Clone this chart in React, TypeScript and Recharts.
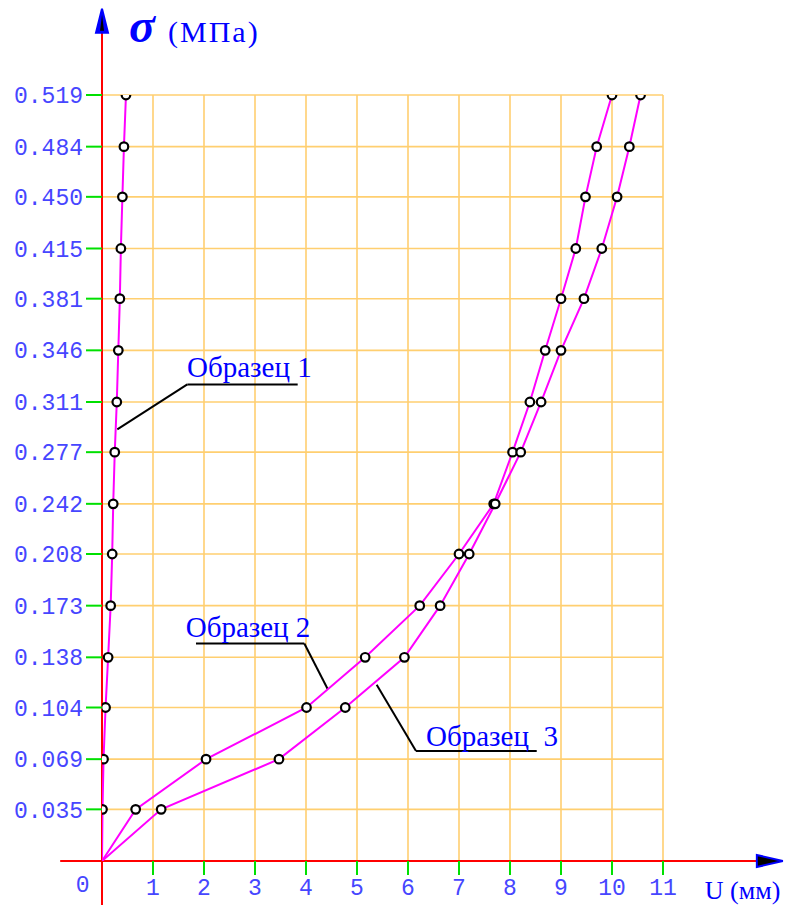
import React from "react";
import { LineChart, Line, XAxis, YAxis, CartesianGrid, ReferenceLine, ReferenceDot } from "recharts";

// stress levels (MPa) at which displacement was measured
const stressLevels = [0, 0.035, 0.069, 0.104, 0.138, 0.173, 0.208, 0.242, 0.277, 0.311, 0.346, 0.381, 0.415, 0.450, 0.484, 0.519];
// displacement U (mm) per sample
const sample1U = [0, 0.01, 0.03, 0.07, 0.12, 0.17, 0.2, 0.22, 0.25, 0.29, 0.32, 0.35, 0.37, 0.4, 0.43, 0.47];
const sample2U = [0, 0.66, 2.04, 4.01, 5.16, 6.23, 7.0, 7.68, 8.05, 8.39, 8.69, 9.0, 9.29, 9.48, 9.7, 10.0];
const sample3U = [0, 1.16, 3.47, 4.77, 5.93, 6.63, 7.2, 7.71, 8.21, 8.61, 9.0, 9.45, 9.8, 10.1, 10.34, 10.56];

const xTicks = [1, 2, 3, 4, 5, 6, 7, 8, 9, 10, 11];
const yTicks = stressLevels.slice(1);

// annotation leaders (data units)
const leader1 = [{ x: 0.3, y: 0.2924 }, { x: 1.673, y: 0.3229 }, { x: 3.837, y: 0.3229 }];
const leader2 = [{ x: 1.843, y: 0.1474 }, { x: 3.967, y: 0.1474 }, { x: 4.425, y: 0.1165 }];
const leader3 = [{ x: 5.386, y: 0.1194 }, { x: 6.157, y: 0.0746 }, { x: 8.524, y: 0.0746 }];
const labels = [
  { x: 1.667, y: 0.3277, text: "Образец 1" },
  { x: 1.641, y: 0.152, text: "Образец 2" },
  { x: 6.353, y: 0.078, text: "Образец\u00a0\u00a03" },
];

const zip = (us: number[]) => us.map((u, i) => ({ x: u, y: stressLevels[i] }));
const s1 = zip(sample1U);
const s2 = zip(sample2U);
const s3 = zip(sample3U);

const MAG = "#ff00ff";
const BLUE = "#0000ff";
const TICKBLUE = "#4646ff";
const MONO = "'Liberation Mono', 'Courier New', monospace";

const renderDot = (p: any) => {
  if (p.index === 0) return <g key={`d-${p.index}`} />;
  return <circle key={`d-${p.index}`} cx={p.cx} cy={p.cy} r={4.3} fill="#fff" stroke="#000" strokeWidth={2.2} />;
};

const XArrow = (p: any) => (
  <g>
    <line x1={p.x1} y1={p.y1} x2={p.x2 - 24} y2={p.y2} stroke="#ff0000" strokeWidth={2} />
    <polygon points={`${p.x2},${p.y2} ${p.x2 - 26},${p.y2 - 6} ${p.x2 - 26},${p.y2 + 6}`} fill="#000" stroke={BLUE} strokeWidth={2} />
  </g>
);
const YArrow = (p: any) => (
  <g>
    <line x1={p.x1} y1={p.y1} x2={p.x2} y2={p.y2 + 22} stroke="#ff0000" strokeWidth={2} />
    <polygon points={`${p.x2},${p.y2} ${p.x2 - 6},${p.y2 + 24} ${p.x2 + 6},${p.y2 + 24}`} fill={BLUE} stroke={BLUE} strokeWidth={2} />
    <polygon points={`${p.x2},${p.y2 + 6} ${p.x2 - 2},${p.y2 + 22} ${p.x2 + 2},${p.y2 + 22}`} fill="#000" />
  </g>
);
const Seg = (p: any) => <line x1={p.x1} y1={p.y1} x2={p.x2} y2={p.y2} stroke="#000" strokeWidth={2} />;

const textShape = (content: React.ReactNode, extra: any = {}) => (p: any) => (
  <text x={p.cx} y={p.cy} fill={BLUE} fontFamily="'Liberation Serif', 'Times New Roman', serif" fontSize={29} {...extra}>
    {content}
  </text>
);

export default function App() {
  const leaders = [leader1, leader2, leader3];
  return (
    <div style={{ position: "absolute", left: 0, top: 0, width: 787, height: 905, background: "#fff" }}>
      <LineChart width={787} height={905} margin={{ top: 95, right: 124, bottom: 14, left: 42 }}>
        <CartesianGrid stroke="#ffcf70" strokeWidth={1.6} />
        <XAxis
          type="number"
          dataKey="x"
          domain={[0, 11]}
          ticks={xTicks}
          allowDataOverflow
          axisLine={false}
          tickSize={14}
          tickMargin={4}
          tickLine={{ stroke: "#00e000", strokeWidth: 2 }}
          tick={{ fill: TICKBLUE, fontSize: 23, fontFamily: MONO }}
          height={30}
        />
        <YAxis
          type="number"
          dataKey="y"
          domain={[0, 0.519]}
          ticks={yTicks}
          allowDataOverflow
          axisLine={false}
          tickSize={16}
          tickMargin={3}
          tickFormatter={(v: number) => v.toFixed(3)}
          tickLine={{ stroke: "#00e000", strokeWidth: 2 }}
          tick={{ fill: TICKBLUE, fontSize: 23, fontFamily: MONO }}
          width={60}
        />
        <ReferenceLine segment={[{ x: -0.82, y: 0 }, { x: 13.35, y: 0 }]} ifOverflow="visible" shape={XArrow} />
        <ReferenceLine segment={[{ x: 0, y: -0.04 }, { x: 0, y: 0.5774 }]} ifOverflow="visible" shape={YArrow} />
        {leaders.map((l, i) => (
          <ReferenceLine key={`la${i}`} segment={[l[0], l[1]]} ifOverflow="visible" shape={Seg} />
        ))}
        {leaders.map((l, i) => (
          <ReferenceLine key={`lb${i}`} segment={[l[1], l[2]]} ifOverflow="visible" shape={Seg} />
        ))}
        <Line data={s1} dataKey="y" type="linear" stroke={MAG} strokeWidth={2} dot={renderDot} isAnimationActive={false} />
        <Line data={s2} dataKey="y" type="linear" stroke={MAG} strokeWidth={2} dot={renderDot} isAnimationActive={false} />
        <Line data={s3} dataKey="y" type="linear" stroke={MAG} strokeWidth={2} dot={renderDot} isAnimationActive={false} />
        {labels.map((l, i) => (
          <ReferenceDot key={`t${i}`} x={l.x} y={l.y} r={0} ifOverflow="visible" shape={textShape(l.text)} />
        ))}
        <ReferenceDot x={0.53} y={0.555} r={0} ifOverflow="visible"
          shape={textShape("σ", { fontSize: 48, fontWeight: "bold", fontStyle: "italic" })} />
        <ReferenceDot x={1.294} y={0.555} r={0} ifOverflow="visible"
          shape={textShape("(МПа)", { fontSize: 30, letterSpacing: 2 })} />
        <ReferenceDot x={11.82} y={-0.0258} r={0} ifOverflow="visible"
          shape={textShape("U (мм)", { fontSize: 26 })} />
        <ReferenceDot x={-0.38} y={-0.021} r={0} ifOverflow="visible"
          shape={textShape("0", { fontSize: 23, fill: TICKBLUE, textAnchor: "middle", fontFamily: MONO })} />
      </LineChart>
    </div>
  );
}
